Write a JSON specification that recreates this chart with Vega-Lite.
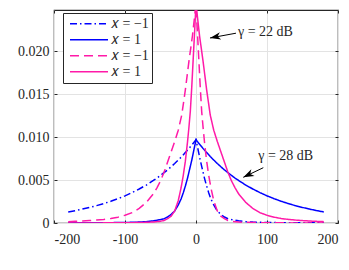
{
  "$schema": "https://vega.github.io/schema/vega-lite/v6.json",
  "width": 284,
  "height": 213,
  "autosize": {"type": "none"},
  "padding": {"left": 54, "top": 10, "right": 11, "bottom": 47},
  "background": "white",
  "config": {
    "view": {"stroke": "#262626", "strokeWidth": 1.2},
    "axis": {
      "labelFont": "Liberation Serif",
      "labelFontSize": 14,
      "labelColor": "#262626",
      "tickColor": "#262626",
      "gridColor": "#e3e3e3",
      "gridWidth": 1,
      "domain": false,
      "title": null
    }
  },
  "layer": [
    {
      "data": {"values": [
        {"s":"b1","x":-180,"y":0.00129},{"s":"b1","x":-170,"y":0.00144},{"s":"b1","x":-160,"y":0.00162},{"s":"b1","x":-150,"y":0.00181},{"s":"b1","x":-140,"y":0.00202},{"s":"b1","x":-130,"y":0.00226},{"s":"b1","x":-120,"y":0.00253},{"s":"b1","x":-110,"y":0.00283},{"s":"b1","x":-100,"y":0.00316},{"s":"b1","x":-90,"y":0.00354},{"s":"b1","x":-80,"y":0.00396},{"s":"b1","x":-70,"y":0.00442},{"s":"b1","x":-60,"y":0.00495},{"s":"b1","x":-55,"y":0.00523},{"s":"b1","x":-50,"y":0.00554},{"s":"b1","x":-45,"y":0.00586},{"s":"b1","x":-40,"y":0.00619},{"s":"b1","x":-35,"y":0.00655},{"s":"b1","x":-30,"y":0.00693},{"s":"b1","x":-25,"y":0.00733},{"s":"b1","x":-20,"y":0.00775},{"s":"b1","x":-15,"y":0.0082},{"s":"b1","x":-10,"y":0.00867},{"s":"b1","x":-5,"y":0.00917},{"s":"b1","x":0,"y":0.0097},
        {"s":"b1","x":2,"y":0.0089},{"s":"b1","x":4,"y":0.0081},{"s":"b1","x":6,"y":0.0073},{"s":"b1","x":8,"y":0.0066},{"s":"b1","x":10,"y":0.0059},{"s":"b1","x":12,"y":0.0052},{"s":"b1","x":15,"y":0.0043},{"s":"b1","x":18,"y":0.0035},{"s":"b1","x":21,"y":0.0028},{"s":"b1","x":25,"y":0.0021},{"s":"b1","x":30,"y":0.0014},{"s":"b1","x":35,"y":0.001},{"s":"b1","x":40,"y":0.0007},{"s":"b1","x":45,"y":0.0005},{"s":"b1","x":50,"y":0.0004},{"s":"b1","x":60,"y":0.00025},{"s":"b1","x":70,"y":0.00016},{"s":"b1","x":80,"y":0.00011},{"s":"b1","x":90,"y":0.00008},{"s":"b1","x":100,"y":0.00006},{"s":"b1","x":120,"y":0.00004},{"s":"b1","x":140,"y":0.00003},{"s":"b1","x":160,"y":0.00002},{"s":"b1","x":180,"y":0.00002},

        {"s":"b2","x":180,"y":0.00129},{"s":"b2","x":170,"y":0.00144},{"s":"b2","x":160,"y":0.00162},{"s":"b2","x":150,"y":0.00181},{"s":"b2","x":140,"y":0.00202},{"s":"b2","x":130,"y":0.00226},{"s":"b2","x":120,"y":0.00253},{"s":"b2","x":110,"y":0.00283},{"s":"b2","x":100,"y":0.00316},{"s":"b2","x":90,"y":0.00354},{"s":"b2","x":80,"y":0.00396},{"s":"b2","x":70,"y":0.00442},{"s":"b2","x":60,"y":0.00495},{"s":"b2","x":55,"y":0.00523},{"s":"b2","x":50,"y":0.00554},{"s":"b2","x":45,"y":0.00586},{"s":"b2","x":40,"y":0.00619},{"s":"b2","x":35,"y":0.00655},{"s":"b2","x":30,"y":0.00693},{"s":"b2","x":25,"y":0.00733},{"s":"b2","x":20,"y":0.00775},{"s":"b2","x":15,"y":0.0082},{"s":"b2","x":10,"y":0.00867},{"s":"b2","x":5,"y":0.00917},{"s":"b2","x":0,"y":0.0097},
        {"s":"b2","x":-2,"y":0.0089},{"s":"b2","x":-4,"y":0.0081},{"s":"b2","x":-6,"y":0.0073},{"s":"b2","x":-8,"y":0.0066},{"s":"b2","x":-10,"y":0.0059},{"s":"b2","x":-12,"y":0.0052},{"s":"b2","x":-15,"y":0.0043},{"s":"b2","x":-18,"y":0.0035},{"s":"b2","x":-21,"y":0.0028},{"s":"b2","x":-25,"y":0.0021},{"s":"b2","x":-30,"y":0.0014},{"s":"b2","x":-35,"y":0.001},{"s":"b2","x":-40,"y":0.0007},{"s":"b2","x":-45,"y":0.0005},{"s":"b2","x":-50,"y":0.0004},{"s":"b2","x":-60,"y":0.00025},{"s":"b2","x":-70,"y":0.00016},{"s":"b2","x":-80,"y":0.00011},{"s":"b2","x":-90,"y":0.00008},{"s":"b2","x":-100,"y":0.00006},{"s":"b2","x":-120,"y":0.00004},{"s":"b2","x":-140,"y":0.00003},{"s":"b2","x":-160,"y":0.00002},{"s":"b2","x":-180,"y":0.00002},

        {"s":"m1","x":-180,"y":0.00016},{"s":"m1","x":-170,"y":0.00019},{"s":"m1","x":-160,"y":0.00023},{"s":"m1","x":-150,"y":0.00028},{"s":"m1","x":-140,"y":0.00034},{"s":"m1","x":-130,"y":0.00042},{"s":"m1","x":-120,"y":0.00052},{"s":"m1","x":-110,"y":0.00068},{"s":"m1","x":-100,"y":0.0009},{"s":"m1","x":-90,"y":0.0012},{"s":"m1","x":-80,"y":0.0017},{"s":"m1","x":-70,"y":0.0024},{"s":"m1","x":-60,"y":0.0034},{"s":"m1","x":-55,"y":0.0041},{"s":"m1","x":-50,"y":0.0049},{"s":"m1","x":-45,"y":0.0059},{"s":"m1","x":-40,"y":0.0071},{"s":"m1","x":-35,"y":0.0083},{"s":"m1","x":-30,"y":0.0095},{"s":"m1","x":-25,"y":0.0108},{"s":"m1","x":-20,"y":0.0126},{"s":"m1","x":-15,"y":0.0155},{"s":"m1","x":-10,"y":0.0188},{"s":"m1","x":-5,"y":0.0218},{"s":"m1","x":0,"y":0.0255},
        {"s":"m1","x":2,"y":0.0222},{"s":"m1","x":4,"y":0.019},{"s":"m1","x":6,"y":0.0158},{"s":"m1","x":8,"y":0.013},{"s":"m1","x":10,"y":0.0111},{"s":"m1","x":12,"y":0.0094},{"s":"m1","x":15,"y":0.0072},{"s":"m1","x":18,"y":0.0055},{"s":"m1","x":21,"y":0.0041},{"s":"m1","x":25,"y":0.0026},{"s":"m1","x":30,"y":0.0014},{"s":"m1","x":35,"y":0.0008},{"s":"m1","x":40,"y":0.0005},{"s":"m1","x":45,"y":0.0003},{"s":"m1","x":50,"y":0.0002},{"s":"m1","x":60,"y":0.00012},{"s":"m1","x":70,"y":0.00008},{"s":"m1","x":80,"y":0.00005},{"s":"m1","x":90,"y":0.00004},{"s":"m1","x":100,"y":0.00003},{"s":"m1","x":120,"y":0.00002},{"s":"m1","x":140,"y":0.00001},{"s":"m1","x":160,"y":0.00001},{"s":"m1","x":180,"y":0.00001},

        {"s":"m2","x":180,"y":0.00016},{"s":"m2","x":170,"y":0.00019},{"s":"m2","x":160,"y":0.00023},{"s":"m2","x":150,"y":0.00028},{"s":"m2","x":140,"y":0.00034},{"s":"m2","x":130,"y":0.00042},{"s":"m2","x":120,"y":0.00052},{"s":"m2","x":110,"y":0.00068},{"s":"m2","x":100,"y":0.0009},{"s":"m2","x":90,"y":0.0012},{"s":"m2","x":80,"y":0.0017},{"s":"m2","x":70,"y":0.0024},{"s":"m2","x":60,"y":0.0034},{"s":"m2","x":55,"y":0.0041},{"s":"m2","x":50,"y":0.0049},{"s":"m2","x":45,"y":0.0059},{"s":"m2","x":40,"y":0.0071},{"s":"m2","x":35,"y":0.0083},{"s":"m2","x":30,"y":0.0095},{"s":"m2","x":25,"y":0.0108},{"s":"m2","x":20,"y":0.0126},{"s":"m2","x":15,"y":0.0155},{"s":"m2","x":10,"y":0.0188},{"s":"m2","x":5,"y":0.0218},{"s":"m2","x":0,"y":0.0255},
        {"s":"m2","x":-2,"y":0.0222},{"s":"m2","x":-4,"y":0.019},{"s":"m2","x":-6,"y":0.0158},{"s":"m2","x":-8,"y":0.013},{"s":"m2","x":-10,"y":0.0111},{"s":"m2","x":-12,"y":0.0094},{"s":"m2","x":-15,"y":0.0072},{"s":"m2","x":-18,"y":0.0055},{"s":"m2","x":-21,"y":0.0041},{"s":"m2","x":-25,"y":0.0026},{"s":"m2","x":-30,"y":0.0014},{"s":"m2","x":-35,"y":0.0008},{"s":"m2","x":-40,"y":0.0005},{"s":"m2","x":-45,"y":0.0003},{"s":"m2","x":-50,"y":0.0002},{"s":"m2","x":-60,"y":0.00012},{"s":"m2","x":-70,"y":0.00008},{"s":"m2","x":-80,"y":0.00005},{"s":"m2","x":-90,"y":0.00004},{"s":"m2","x":-100,"y":0.00003},{"s":"m2","x":-120,"y":0.00002},{"s":"m2","x":-140,"y":0.00001},{"s":"m2","x":-160,"y":0.00001},{"s":"m2","x":-180,"y":0.00001}
      ]},
      "layer": [
        {
          "mark": {"type": "line", "clip": true, "strokeWidth": 1.5},
          "encoding": {
            "x": {"field": "x", "type": "quantitative",
              "scale": {"domain": [-200, 200], "nice": false, "zero": false},
              "axis": {"values": [-200, -100, 0, 100, 200], "grid": true, "tickSize": -3, "labelPadding": 12,
                "labelExpr": "datum.value < 0 ? '-' + format(-datum.value, 'd') : format(datum.value, 'd')"}},
            "y": {"field": "y", "type": "quantitative",
              "scale": {"domain": [0, 0.0248], "nice": false},
              "axis": {"values": [0, 0.005, 0.01, 0.015, 0.02], "grid": true, "tickSize": -3, "labelPadding": 8,
                "labelExpr": "datum.value == 0 ? '0' : format(datum.value, '.3f')"}},
            "color": {"field": "s", "type": "nominal",
              "scale": {"domain": ["b1", "b2", "m1", "m2"], "range": ["#0000ff", "#0000ff", "#ff1aa8", "#ff1aa8"]},
              "legend": {
                "title": null, "orient": "none", "legendX": 9, "legendY": 3,
                "symbolType": "stroke", "symbolSize": 1444, "symbolStrokeWidth": 1.5,
                "labelFont": "Liberation Serif", "labelFontSize": 14, "labelColor": "#262626", "labelOffset": 2,
                "rowPadding": 0, "clipHeight": 15.5, "padding": 3, "symbolOffset": 3,
                "strokeColor": "#262626", "fillColor": "white", "cornerRadius": 0,
                "labelExpr": "datum.label == 'b1' || datum.label == 'm1' ? '𝑥 = −1' : '𝑥 = 1'"}},
            "strokeDash": {"field": "s", "type": "nominal",
              "scale": {"domain": ["b1", "b2", "m1", "m2"], "range": [[7, 3, 1.5, 3], [1, 0], [9, 5], [1, 0]]},
              "legend": {
                "title": null, "orient": "none", "legendX": 9, "legendY": 3,
                "symbolType": "stroke", "symbolSize": 1444, "symbolStrokeWidth": 1.5,
                "labelFont": "Liberation Serif", "labelFontSize": 14, "labelColor": "#262626", "labelOffset": 2,
                "rowPadding": 0, "clipHeight": 15.5, "padding": 3, "symbolOffset": 3,
                "strokeColor": "#262626", "fillColor": "white", "cornerRadius": 0,
                "labelExpr": "datum.label == 'b1' || datum.label == 'm1' ? '𝑥 = −1' : '𝑥 = 1'"}}
          }
        },
        {
          "mark": {"type": "point", "opacity": 0},
          "encoding": {
            "x": {"field": "x", "type": "quantitative",
              "axis": {"orient": "top", "values": [-200, -100, 0, 100, 200], "labels": false, "grid": false, "tickSize": -3}},
            "y": {"field": "y", "type": "quantitative",
              "axis": {"orient": "right", "values": [0, 0.005, 0.01, 0.015, 0.02], "labels": false, "grid": false, "tickSize": -3}}
          }
        }
      ],
      "resolve": {"axis": {"x": "independent", "y": "independent"}}
    },
    {
      "data": {"values": [
        {"x": 56.3, "y": 0.0221, "x2": 19.7, "y2": 0.02154},
        {"x": 94.8, "y": 0.00644, "x2": 66.6, "y2": 0.00532}
      ]},
      "mark": {"type": "rule", "color": "black", "strokeWidth": 1},
      "encoding": {
        "x": {"field": "x", "type": "quantitative", "axis": null},
        "y": {"field": "y", "type": "quantitative", "axis": null},
        "x2": {"field": "x2"},
        "y2": {"field": "y2"}
      }
    },
    {
      "data": {"values": [
        {"x": 19.7, "y": 0.02154, "a": -11},
        {"x": 66.6, "y": 0.00532, "a": -26}
      ]},
      "mark": {"type": "point", "filled": true, "color": "black", "opacity": 1, "size": 180,
        "shape": "M0,0 L1.6,-0.55 L1.15,0 L1.6,0.55 Z"},
      "encoding": {
        "x": {"field": "x", "type": "quantitative", "axis": null},
        "y": {"field": "y", "type": "quantitative", "axis": null},
        "angle": {"field": "a", "type": "quantitative", "scale": null}
      }
    },
    {
      "data": {"values": [
        {"x": 59.2, "y": 0.0222, "t": "γ = 22 dB"},
        {"x": 87.7, "y": 0.0078, "t": "γ = 28 dB"}
      ]},
      "mark": {"type": "text", "align": "left", "baseline": "middle", "font": "Liberation Serif", "fontSize": 14, "color": "#262626"},
      "encoding": {
        "x": {"field": "x", "type": "quantitative", "axis": null},
        "y": {"field": "y", "type": "quantitative", "axis": null},
        "text": {"field": "t"}
      }
    }
  ]
}
